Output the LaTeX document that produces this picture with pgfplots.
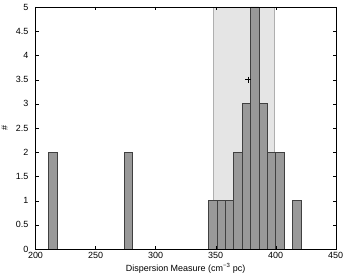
\documentclass[border=0pt]{standalone}
\usepackage{pgfplots}
\pgfplotsset{compat=1.18}
\usepackage{fontspec}
\setmainfont{Liberation Sans}
\definecolor{barfill}{RGB}{153,153,153}
\definecolor{baredge}{RGB}{64,64,64}
\definecolor{shade}{RGB}{229,229,229}
\definecolor{shadeedge}{RGB}{175,175,175}
\begin{document}
\fontsize{9}{11}\selectfont
\begin{tikzpicture}
\begin{axis}[
  scale only axis,
  width=300.2bp, height=242bp,
  xmin=200, xmax=450, ymin=0, ymax=5,
  xtick={200,250,...,450},
  ytick={0,0.5,...,5},
  tick pos=both, tick align=inside,
  major tick length=3bp,
  /pgf/number format/assume math mode=true,
  /pgf/number format/fixed,
  yticklabel style={/pgf/number format/fixed, /pgf/number format/precision=1, font=\fontsize{9}{11}\selectfont, xshift=-4bp},
  xticklabel style={font=\fontsize{9}{11}\selectfont, yshift=-0.5bp},
  xlabel={Dispersion Measure (cm\textsuperscript{−3} pc)},
  ylabel={\#},
  xlabel style={yshift=2bp},
  ylabel style={yshift=2bp},
  label style={font=\fontsize{9}{11}\selectfont},
  axis on top,
  axis line style={black},
  tick style={black},
  scaled ticks=false,
]
\addplot[fill=shade, draw=shadeedge, line width=0.8bp] coordinates {(348,0) (348,5) (399,5) (399,0)} -- cycle;
\addplot[ybar, bar width=7, bar shift=0pt, fill=barfill, draw=baredge, line width=0.6bp] coordinates {
(214.5,2) (277.5,2) (347.5,1) (354.5,1) (361.5,1) (368.5,2) (375.5,3) (382.5,5) (389.5,3) (396.5,2) (403.5,2) (417.5,1)
};
\addplot[only marks, mark=+, mark size=3bp, black, line width=0.6bp] coordinates {(377,3.5)};
\coordinate (sw) at (rel axis cs:0,0);
\coordinate (ne) at (rel axis cs:1,1);
\end{axis}
\pgfresetboundingbox
\path[use as bounding box] ([shift={(-35.5bp,-26bp)}]sw) rectangle ([shift={(10.3bp,7bp)}]ne);
\end{tikzpicture}
\end{document}
